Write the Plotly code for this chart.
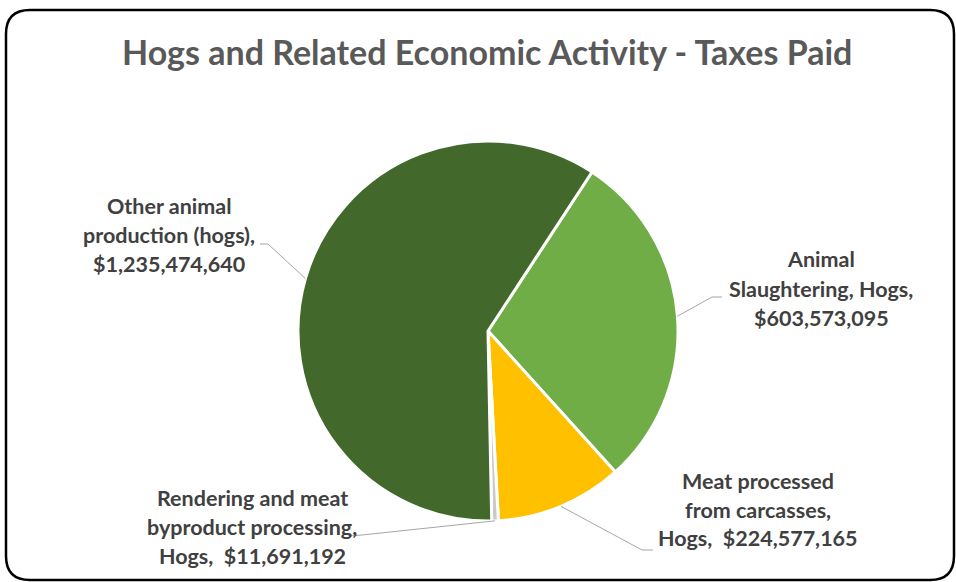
import math
import plotly.graph_objects as go

# Taxes paid by hog-related activity (USD), in clockwise drawing order
categories = [
    "Animal Slaughtering, Hogs",
    "Meat processed from carcasses, Hogs",
    "Rendering and meat byproduct processing, Hogs",
    "Other animal production (hogs)",
]
taxes_paid = [603573095, 224577165, 11691192, 1235474640]
label_lines = [
    ["Animal", "Slaughtering, Hogs,", "$603,573,095"],
    ["Meat processed", "from carcasses,", "Hogs,  $224,577,165"],
    ["Rendering and meat", "byproduct processing,", "Hogs,  $11,691,192"],
    ["Other animal", "production (hogs),", "$1,235,474,640"],
]
colors = ["#70AD47", "#FFC000", "#C9C9C9", "#43682B"]

W, H = 956, 582
CX, CY, R = 488, 331, 190
ROTATION = 33.2

# label block placement: (center x, first-line y, line gap) and leader elbow points
label_pos = [(821, 259, 29.5), (758, 481, 28.5), (252, 498, 29), (169, 206, 29)]
elbows = [
    [(712, 297), (722, 297)],
    [(642, 550), (653, 550)],
    [(362, 535), (350, 536)],
    [(268, 244), (260, 244)],
]


def px(x):
    return x / W


def py(y):
    return 1 - y / H


fig = go.Figure(
    go.Pie(
        labels=categories,
        values=taxes_paid,
        sort=False,
        direction="clockwise",
        rotation=ROTATION,
        marker=dict(colors=colors, line=dict(color="white", width=3)),
        textinfo="none",
        hoverinfo="label+value",
        showlegend=False,
        domain=dict(x=[px(CX - R), px(CX + R)], y=[py(CY + R), py(CY - R)]),
    )
)

total = sum(taxes_paid)
shapes = []
annotations = []
start = ROTATION
for i, v in enumerate(taxes_paid):
    span = v / total * 360
    mid = math.radians(start + span / 2)
    start += span
    ex = CX + R * math.sin(mid)
    ey = CY - R * math.cos(mid)
    pts = [(ex, ey)] + elbows[i]
    path = "M " + " L ".join(f"{px(a):.5f},{py(b):.5f}" for a, b in pts)
    shapes.append(dict(type="path", xref="paper", yref="paper", path=path,
                       line=dict(color="#A6A6A6", width=1)))
    lx, ly, gap = label_pos[i]
    for j, t in enumerate(label_lines[i]):
        annotations.append(dict(
            x=px(lx), y=py(ly + j * gap), xref="paper", yref="paper",
            text=t, showarrow=False, xanchor="center", yanchor="middle",
            font=dict(family="Lato", size=21.5, color="#404040", weight="bold"),
        ))

# chart title
annotations.append(dict(
    x=px(487), y=py(51), xref="paper", yref="paper",
    text="Hogs and Related Economic Activity - Taxes Paid", showarrow=False,
    xanchor="center", yanchor="middle",
    font=dict(family="Lato", size=34, color="#595959", weight="bold"),
))

# rounded chart-area frame
x0, y0, x1, y1, rr = 6, 10, 954, 580, 24
frame = (
    f"M {px(x0 + rr)},{py(y0)} L {px(x1 - rr)},{py(y0)} "
    f"Q {px(x1)},{py(y0)} {px(x1)},{py(y0 + rr)} "
    f"L {px(x1)},{py(y1 - rr)} Q {px(x1)},{py(y1)} {px(x1 - rr)},{py(y1)} "
    f"L {px(x0 + rr)},{py(y1)} Q {px(x0)},{py(y1)} {px(x0)},{py(y1 - rr)} "
    f"L {px(x0)},{py(y0 + rr)} Q {px(x0)},{py(y0)} {px(x0 + rr)},{py(y0)} Z"
)
shapes.append(dict(type="path", xref="paper", yref="paper", path=frame,
                   line=dict(color="black", width=2.5)))

fig.update_layout(
    width=W, height=H,
    margin=dict(l=0, r=0, t=0, b=0),
    paper_bgcolor="white",
    plot_bgcolor="white",
    shapes=shapes,
    annotations=annotations,
)

fig.write_html("out.html")
